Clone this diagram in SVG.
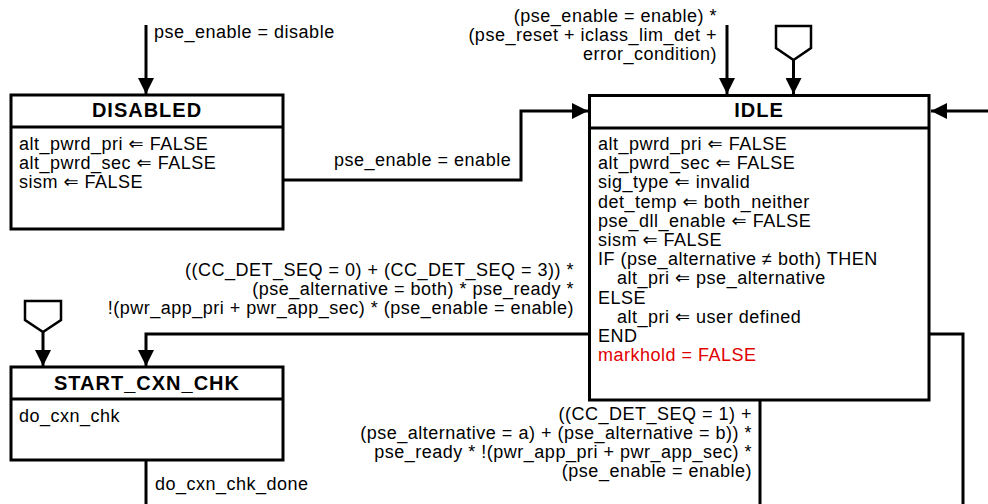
<svg xmlns="http://www.w3.org/2000/svg" width="988" height="504" viewBox="0 0 988 504">
<style>
.box{fill:#fff;stroke:#000;stroke-width:3}
.div{stroke:#000;stroke-width:3}
.t{font-family:"Liberation Sans",Arial,"DejaVu Sans",sans-serif;font-size:18px;letter-spacing:0.5px;fill:#000}
.h{font-family:"Liberation Sans",Arial,sans-serif;font-size:20px;font-weight:bold;letter-spacing:1px;fill:#000;text-anchor:middle}
.e{text-anchor:end}
.red{fill:#e00000}
.c{fill:none;stroke:#000;stroke-width:3}
.pent{fill:#fff;stroke:#000;stroke-width:2.5}
</style>
<defs>
<marker id="ah" viewBox="0 0 16 16" refX="16" refY="8" markerWidth="16" markerHeight="16" markerUnits="userSpaceOnUse" orient="auto">
<path d="M0,0 L16,8 L0,16 z" fill="#000"/>
</marker>
</defs>

<g id="connectors">
<path class="c" d="M146,25 V94" marker-end="url(#ah)"/>
<path class="c" d="M284,180 H521 V111 H588" marker-end="url(#ah)"/>
<path class="c" d="M727,25 V94" marker-end="url(#ah)"/>
<path class="c" d="M793.5,60 V94" marker-end="url(#ah)"/>
<path class="c" d="M988,111 H931" marker-end="url(#ah)"/>
<path class="c" d="M589,334 H146 V366" marker-end="url(#ah)"/>
<path class="c" d="M929,334 H963 V504"/>
<path class="c" d="M760,400 V504"/>
<path class="c" d="M43,332 V366" marker-end="url(#ah)"/>
<path class="c" d="M146,460 V504"/>
<polygon class="pent" points="776,26 811,26 811,48 793.5,60 776,48"/>
<polygon class="pent" points="25,301 61,301 61,320 43,332 25,320"/>
<text class="t" x="154" y="38">pse_enable = disable</text>
<text class="t" x="334" y="166">pse_enable = enable</text>
<text class="t e" x="717" y="22">(pse_enable = enable) *</text>
<text class="t e" x="717" y="41">(pse_reset + iclass_lim_det +</text>
<text class="t e" x="717" y="60">error_condition)</text>
<text class="t e" x="574" y="276">((CC_DET_SEQ = 0) + (CC_DET_SEQ = 3)) *</text>
<text class="t e" x="574" y="295">(pse_alternative = both) * pse_ready *</text>
<text class="t e" x="574" y="314">!(pwr_app_pri + pwr_app_sec) * (pse_enable = enable)</text>
<text class="t e" x="752" y="420">((CC_DET_SEQ = 1) +</text>
<text class="t e" x="752" y="439">(pse_alternative = a) + (pse_alternative = b)) *</text>
<text class="t e" x="752" y="458">pse_ready * !(pwr_app_pri + pwr_app_sec) *</text>
<text class="t e" x="752" y="477">(pse_enable = enable)</text>
<text class="t" x="155" y="490">do_cxn_chk_done</text>
</g>

<g id="disabled">
<rect class="box" x="11" y="95" width="272" height="134"/>
<line class="div" x1="11" y1="127" x2="283" y2="127"/>
<text class="h" x="147" y="117">DISABLED</text>
<text class="t" x="19" y="150">alt_pwrd_pri ⇐ FALSE</text>
<text class="t" x="19" y="169">alt_pwrd_sec ⇐ FALSE</text>
<text class="t" x="19" y="188">sism ⇐ FALSE</text>
</g>

<g id="idle">
<rect class="box" x="589.5" y="95.5" width="339.5" height="304.5"/>
<line class="div" x1="589.5" y1="128" x2="929" y2="128"/>
<text class="h" x="759" y="117">IDLE</text>
<text class="t" x="598" y="150">alt_pwrd_pri ⇐ FALSE</text>
<text class="t" x="598" y="169.2">alt_pwrd_sec ⇐ FALSE</text>
<text class="t" x="598" y="188.4">sig_type ⇐ invalid</text>
<text class="t" x="598" y="207.6">det_temp ⇐ both_neither</text>
<text class="t" x="598" y="226.8">pse_dll_enable ⇐ FALSE</text>
<text class="t" x="598" y="246">sism ⇐ FALSE</text>
<text class="t" x="598" y="265.2">IF (pse_alternative ≠ both) THEN</text>
<text class="t" x="617" y="284.4">alt_pri ⇐ pse_alternative</text>
<text class="t" x="598" y="303.6">ELSE</text>
<text class="t" x="617" y="322.8">alt_pri ⇐ user defined</text>
<text class="t" x="598" y="342">END</text>
<text class="t red" x="598" y="361.2">markhold = FALSE</text>
</g>

<g id="start_cxn_chk">
<rect class="box" x="11" y="367" width="272" height="93"/>
<line class="div" x1="11" y1="399" x2="283" y2="399"/>
<text class="h" x="147" y="390">START_CXN_CHK</text>
<text class="t" x="19" y="422">do_cxn_chk</text>
</g>
</svg>
